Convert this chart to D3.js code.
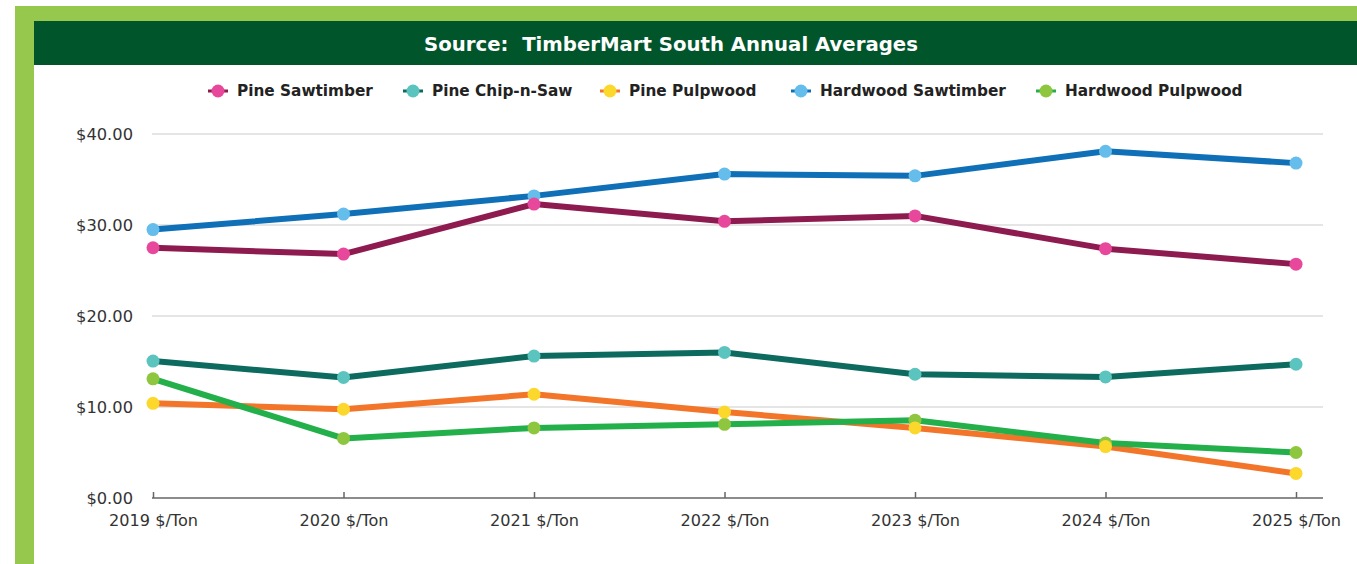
<!DOCTYPE html>
<html>
<head>
    <title>TimberMart South annual averages</title>
    <script type="text/javascript" src="https://cdn.jsdelivr.net/npm/d3@7/dist/d3.min.js"></script>
    <style type="text/css">
        body { margin: 0; background: #fff; }
        svg { display: block; font-family: "DejaVu Sans", "Open Sans", sans-serif; }
        svg text { font-family: "DejaVu Sans", "Open Sans", sans-serif; }
    </style>
</head>
<body>
    <svg id="chart" width="1357" height="564"></svg>
</body>

<script type="text/javascript">

    // data, $/ton
    let years = ["2019 $/Ton", "2020 $/Ton", "2021 $/Ton", "2022 $/Ton", "2023 $/Ton", "2024 $/Ton", "2025 $/Ton"];
    let seriesNames = ["Pine Sawtimber", "Pine Chip-n-Saw", "Pine Pulpwood", "Hardwood Sawtimber", "Hardwood Pulpwood"];
    let pineSawtimber = [27.5, 26.8, 32.3, 30.4, 31.0, 27.4, 25.7];
    let pineChipNSaw = [15.05, 13.25, 15.6, 16.0, 13.6, 13.3, 14.7];
    let pinePulpwood = [10.4, 9.75, 11.4, 9.45, 7.7, 5.65, 2.7];
    let hardwoodSawtimber = [29.5, 31.2, 33.2, 35.6, 35.4, 38.1, 36.8];
    let hardwoodPulpwood = [13.1, 6.55, 7.7, 8.1, 8.55, 6.05, 5.0];
    let yTicks = [0, 10, 20, 30, 40];

    let lineColors = ["#8e1b50", "#0d6a5f", "#f2752a", "#0f70b7", "#23b04b"];
    let dotColors = ["#e8489b", "#5cc4bf", "#fdd82c", "#64bdea", "#8fc640"];

    let series = [pineSawtimber, pineChipNSaw, pinePulpwood, hardwoodSawtimber, hardwoodPulpwood].map(function(v, i) {
        return { name: seriesNames[i], values: v, line: lineColors[i], dot: dotColors[i] };
    });

    // the original font is wider than what we have, so size text by its width
    function fitSize(sel, base, target) {
        let w = sel.node().getComputedTextLength();
        return base * target / w;
    }

    let svg = d3.select("#chart");

    // frame: light green border + dark green header
    svg.append("rect").attr("x", 15).attr("y", 6).attr("width", 1342).attr("height", 15).attr("fill", "#95c84d");
    svg.append("rect").attr("x", 15).attr("y", 6).attr("width", 19).attr("height", 558).attr("fill", "#95c84d");
    svg.append("rect").attr("x", 34).attr("y", 21).attr("width", 1323).attr("height", 44).attr("fill", "#01552b");
    let title = svg.append("text")
        .attr("x", 671).attr("y", 51)
        .attr("text-anchor", "middle")
        .attr("fill", "#fff")
        .attr("font-size", 18)
        .attr("font-weight", "bold")
        .style("white-space", "pre")
        .text("Source:  TimberMart South Annual Averages");
    title.attr("font-size", fitSize(title, 18, 494));

    let x = d3.scalePoint().domain(years).range([153, 1296]);
    let y = d3.scaleLinear().domain([0, 40]).range([498, 134]);

    // gridlines
    svg.append("g")
        .selectAll("line")
        .data(yTicks.slice(1))
        .join("line")
        .attr("x1", 152).attr("x2", 1323)
        .attr("y1", d => y(d)).attr("y2", d => y(d))
        .attr("stroke", "#dcdcdc")
        .attr("stroke-width", 1.5);

    // y labels
    let yAxis = svg.append("g")
        .attr("transform", "translate(140,0)")
        .call(d3.axisLeft(y).tickValues(yTicks).tickSize(0).tickPadding(7).tickFormat(d => "$" + d.toFixed(2)));
    yAxis.attr("font-family", null).attr("font-size", 14);
    yAxis.select(".domain").remove();
    yAxis.selectAll("text").attr("fill", "#333");
    yAxis.attr("font-size", fitSize(yAxis.select(".tick:last-of-type text"), 14, 57));

    // x axis
    let xAxis = svg.append("g")
        .attr("transform", "translate(0,498)")
        .call(d3.axisBottom(x).tickSize(-6).tickPadding(17));
    xAxis.attr("font-family", null).attr("font-size", 14);
    xAxis.select(".domain").attr("d", "M152,0H1323").attr("stroke", "#666").attr("stroke-width", 1.5);
    xAxis.selectAll(".tick line").attr("stroke", "#666").attr("stroke-width", 1.5);
    xAxis.selectAll("text").attr("fill", "#333");
    xAxis.attr("font-size", fitSize(xAxis.select(".tick text"), 14, 89));

    let line = d3.line()
        .x(function(d, i) { return x(years[i]); })
        .y(function(d) { return y(d); });

    svg.append("g")
        .selectAll("path")
        .data(series)
        .join("path")
        .attr("d", d => line(d.values))
        .attr("fill", "none")
        .attr("stroke", d => d.line)
        .attr("stroke-width", 6)
        .attr("stroke-linejoin", "round");

    svg.append("g")
        .selectAll("g")
        .data(series.slice().reverse())
        .join("g")
        .attr("fill", d => d.dot)
        .selectAll("circle")
        .data(d => d.values)
        .join("circle")
        .attr("cx", (d, i) => x(years[i]))
        .attr("cy", d => y(d))
        .attr("r", 6.5);

    // legend
    let legendX = [218, 413, 610, 801, 1046];
    let legend = svg.append("g")
        .selectAll("g")
        .data(series)
        .join("g")
        .attr("transform", (d, i) => "translate(" + legendX[i] + ",91)");
    legend.append("line")
        .attr("x1", -10).attr("x2", 10)
        .attr("stroke", d => d.line)
        .attr("stroke-width", 3);
    legend.append("circle").attr("r", 6.5).attr("fill", d => d.dot);
    legend.append("text")
        .attr("x", 19).attr("dy", "0.35em")
        .attr("font-size", 14)
        .attr("font-weight", "bold")
        .attr("fill", "#222")
        .text(d => d.name);
    let legendSize = fitSize(legend.select("text"), 14, 136);
    legend.selectAll("text").attr("font-size", legendSize);
</script>

</html>
